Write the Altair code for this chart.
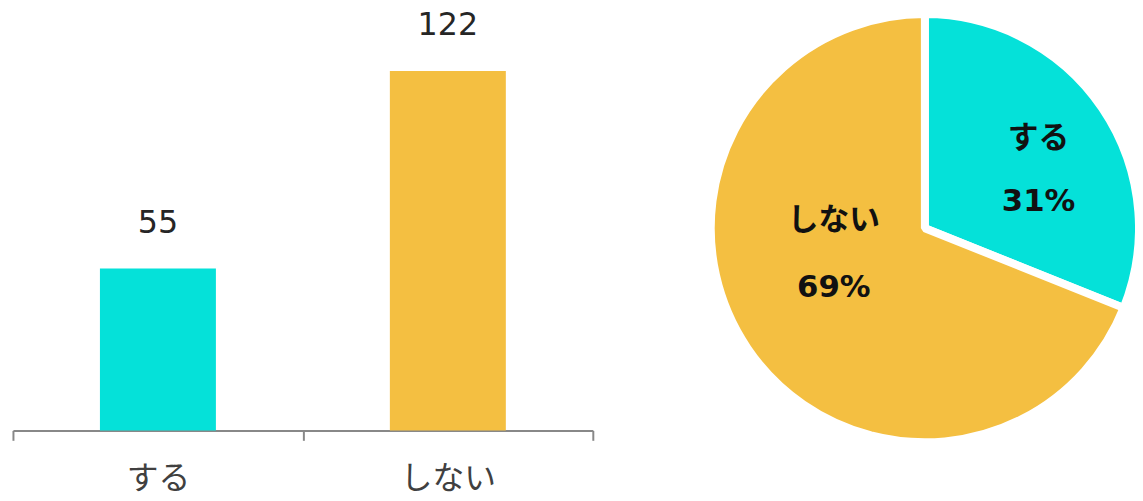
import altair as alt
import pandas as pd

categories = ["する", "しない"]
counts = [55, 122]
colors = ["#05E1D9", "#F4BF41"]
pct_labels = ["31%", "69%"]

df = pd.DataFrame({"cat": categories, "count": counts, "pct": pct_labels, "order": [0, 1]})
df["label"] = df["cat"] + "\n" + df["pct"]

color_scale = alt.Scale(domain=categories, range=colors)
JP = "Noto Sans CJK JP"
MIX = "DejaVu Sans, Noto Sans CJK JP"

bar_base = alt.Chart(df).encode(
    x=alt.X("cat:N", sort=categories, title=None,
            scale=alt.Scale(paddingInner=0, paddingOuter=0),
            axis=alt.Axis(labelAngle=0, labelFont=JP, labelFontSize=32,
                          labelColor="#404040", labelPadding=24,
                          domainColor="#888888", domainWidth=2,
                          tickColor="#888888", tickWidth=2, tickSize=10,
                          tickBand="extent")),
    y=alt.Y("count:Q", scale=alt.Scale(domain=[0, 141]), axis=None),
)
bars = bar_base.mark_bar(width=alt.RelativeBandSize(0.4)).encode(
    color=alt.Color("cat:N", scale=color_scale, legend=None))
vals = bar_base.mark_text(dy=-46, baseline="middle", font="DejaVu Sans",
                          fontSize=32, color="#262626").encode(text="count:Q")
bar_chart = (bars + vals).properties(width=585, height=419)

pie_base = alt.Chart(df).encode(
    theta=alt.Theta("count:Q", stack=True),
    order=alt.Order("order:Q"),
)
arcs = pie_base.mark_arc(outerRadius=216, stroke="white", strokeWidth=8,
                         strokeJoin="bevel").encode(
    color=alt.Color("cat:N", scale=color_scale, legend=None))
text_style = dict(lineBreak="\n", font=MIX, fontWeight="bold",
                  fontSize=31, color="#111111", baseline="middle")
lab_teal = pie_base.mark_text(radius=130, dx=7, dy=-17, lineHeight=63,
                              **text_style).encode(
    text="t0:N").transform_calculate(t0="datum.order == 0 ? datum.label : ''")
lab_yel = pie_base.mark_text(radius=100, dx=-9, dy=-63, lineHeight=67,
                             **text_style).encode(
    text="t1:N").transform_calculate(t1="datum.order == 1 ? datum.label : ''")
pie_chart = (arcs + lab_teal + lab_yel).properties(width=424, height=430)

chart = alt.hconcat(bar_chart, pie_chart, spacing=114).properties(
    padding={"left": 4, "top": -1, "right": -8, "bottom": -4}
).configure_view(stroke=None)

chart.save("out.html", embed_options={"renderer": "svg", "actions": False})
